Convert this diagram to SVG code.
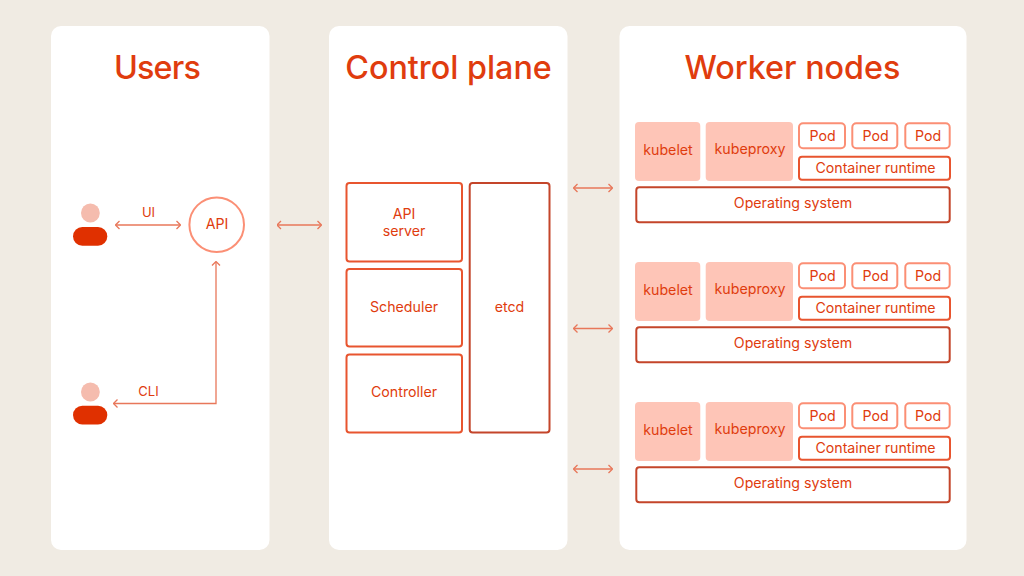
<svg xmlns="http://www.w3.org/2000/svg" xmlns:xlink="http://www.w3.org/1999/xlink" width="1024" height="576" viewBox="0 0 1024 576">
<style>
text{fill:#e03c0e;text-anchor:middle}
.h{font-size:32.300px;font-family:Inter,"Noto Sans","Liberation Sans",sans-serif;font-weight:500}
.t{font-size:14.200px;font-family:Inter,"Noto Sans","Liberation Sans",sans-serif;font-weight:400}
.panel{fill:#fff}
.b1{fill:#fff;stroke:#e8552f;stroke-width:2}
.b2{fill:#fff;stroke:#c4452a;stroke-width:2}
.pod{fill:#fff;stroke:#fb8f75;stroke-width:2}
.soft{fill:#fec5b7}
.conn{fill:none;stroke:#e8775a;stroke-width:1.3}
</style>
<defs>
<marker id="a" viewBox="0 0 10 10" refX="9" refY="5" markerWidth="10" markerHeight="10" markerUnits="userSpaceOnUse" orient="auto-start-reverse"><path d="M5.500 1 L9.500 5 L5.500 9" fill="none" stroke="#e8775a" stroke-width="1.3"/></marker>
<g id="worker">
<rect class="soft" x="635" y="122" width="65.300" height="59" rx="4"/>
<text class="t" x="668" y="155">kubelet</text>
<rect class="soft" x="705.700" y="122" width="87.300" height="59" rx="4"/>
<text class="t" x="750" y="154">kubeproxy</text>
<rect class="pod" x="799" y="123.300" width="46" height="25" rx="4"/>
<text class="t" x="822.500" y="141">Pod</text>
<rect class="pod" x="852.300" y="123.300" width="45" height="25" rx="4"/>
<text class="t" x="875.500" y="141">Pod</text>
<rect class="pod" x="905.300" y="123.300" width="44.400" height="25" rx="4"/>
<text class="t" x="928" y="141">Pod</text>
<rect class="b1" x="799" y="156.700" width="151" height="23" rx="3"/>
<text class="t" x="875.500" y="173">Container runtime</text>
<rect class="b2" x="636.300" y="187.300" width="313.400" height="35" rx="3"/>
<text class="t" x="793" y="208">Operating system</text>
</g>
</defs>
<rect width="1024" height="576" fill="#f0ebe3"/>
<g id="panel-users"><rect class="panel" x="51" y="26" width="218.500" height="524" rx="10"/><text class="h" x="157" y="79" letter-spacing="-0.8">Users</text></g>
<g id="panel-control"><rect class="panel" x="329" y="26" width="238.500" height="524" rx="10"/><text class="h" x="448.500" y="79">Control plane</text></g>
<g id="panel-workers"><rect class="panel" x="619.500" y="26" width="347" height="524" rx="10"/><text class="h" x="792.500" y="79">Worker nodes</text></g>
<g id="connectors">
<path class="conn" marker-start="url(#a)" marker-end="url(#a)" d="M116 225H180"/>
<path class="conn" marker-start="url(#a)" marker-end="url(#a)" d="M216 262V403.500H114"/>
<path class="conn" marker-start="url(#a)" marker-end="url(#a)" d="M277.500 225H321"/>
<path class="conn" marker-start="url(#a)" marker-end="url(#a)" d="M574 188H612"/>
<path class="conn" marker-start="url(#a)" marker-end="url(#a)" d="M574 328.500H612"/>
<path class="conn" marker-start="url(#a)" marker-end="url(#a)" d="M574 469H612"/>
<text class="t" x="148.500" y="217" style="font-size:13px">UI</text>
<text class="t" x="148.500" y="396" style="font-size:13px">CLI</text>
</g>
<g id="user-ui"><circle cx="90.400" cy="213" r="9.400" fill="#f5bcae"/><rect x="73" y="227" width="34.300" height="18.700" rx="9.300" fill="#e03000"/></g>
<g id="user-cli"><circle cx="90.400" cy="392" r="9.400" fill="#f5bcae"/><rect x="73" y="405.700" width="34.300" height="18.700" rx="9.300" fill="#e03000"/></g>
<g id="api"><circle cx="216.700" cy="224.700" r="27.300" fill="#fff" stroke="#fb8f75" stroke-width="2"/><text class="t" x="217" y="229">API</text></g>
<g id="api-server"><rect class="b1" x="346.500" y="183" width="115.500" height="78.500" rx="3"/><text class="t" x="404" y="218.500">API</text><text class="t" x="404" y="235.500">server</text></g>
<g id="scheduler"><rect class="b1" x="346.500" y="269" width="115.500" height="77.500" rx="3"/><text class="t" x="404" y="312">Scheduler</text></g>
<g id="controller"><rect class="b1" x="346.500" y="354.500" width="115.500" height="78" rx="3"/><text class="t" x="404" y="397">Controller</text></g>
<g id="etcd"><rect class="b2" x="469.700" y="183" width="79.800" height="249.500" rx="3"/><text class="t" x="509.500" y="312">etcd</text></g>
<g id="worker-1"><use xlink:href="#worker" href="#worker"/></g>
<g id="worker-2"><use xlink:href="#worker" href="#worker" y="140"/></g>
<g id="worker-3"><use xlink:href="#worker" href="#worker" y="280"/></g>
</svg>
